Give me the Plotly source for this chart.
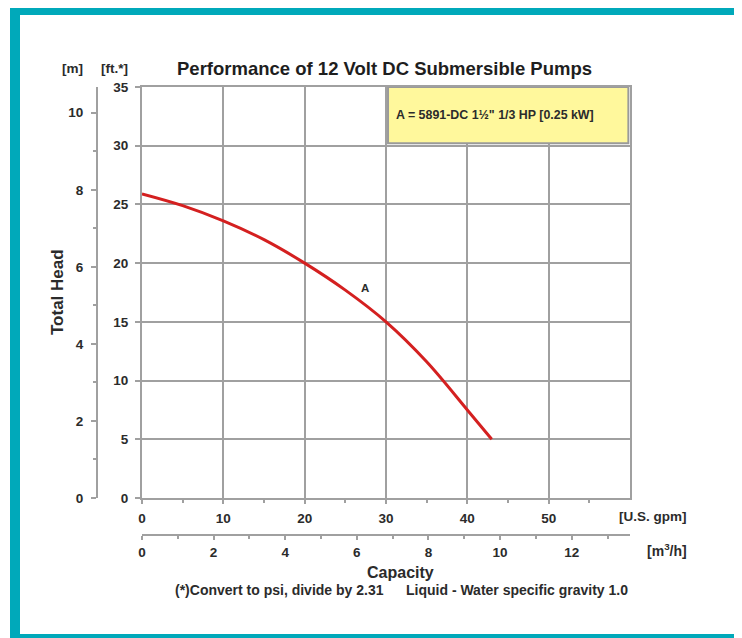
import plotly.graph_objects as go

# ---- data ----
flow_gpm = [0, 5, 10, 15, 20, 25, 30, 35, 40, 43]
head_ft = [25.9, 24.9, 23.6, 22.0, 20.0, 17.7, 15.0, 11.6, 7.5, 5.0]
curve_label = "A"
legend_text = "A = 5891-DC 1½\" 1/3 HP [0.25 kW]"
title_text = "Performance of 12 Volt DC Submersible Pumps"
gpm_ticks = [0, 10, 20, 30, 40, 50]
ft_ticks = [0, 5, 10, 15, 20, 25, 30, 35]
m3h_ticks = [0, 2, 4, 6, 8, 10, 12]
m_ticks = [0, 2, 4, 6, 8, 10]

GPM_MAX = 60
FT_MAX = 35
GPM_TO_M3H = 0.22712
FT_TO_M = 0.3048

OFF = 8                      # page body margin
W, H = 734, 630
L, R, T, B = 89, 112, 79, 103
PW = W - L - R
PH = H - T - B

def px(x):
    """reference-screenshot x pixel -> paper fraction"""
    return (x - OFF - L) / PW

def py(y):
    """reference-screenshot y pixel -> paper fraction"""
    return (H - B - (y - OFF)) / PH

xdom0 = px(142)
ydom0 = py(498)

FONT = "Liberation Sans, Arial, sans-serif"
GRID = "#a0a0a0"
TXT = "#2b2b2b"
TEAL = "#00a9ba"

fig = go.Figure()
fig.add_trace(go.Scatter(
    x=flow_gpm, y=head_ft, mode="lines",
    line=dict(color="#d42020", width=3, shape="spline", smoothing=1.0),
    showlegend=False, hoverinfo="skip", xaxis="x", yaxis="y"))
# invisible trace carrying the secondary (metric) axes
fig.add_trace(go.Scatter(
    x=[0, GPM_MAX * GPM_TO_M3H], y=[0, FT_MAX * FT_TO_M], mode="markers",
    marker=dict(opacity=0, size=1), showlegend=False, hoverinfo="skip",
    xaxis="x2", yaxis="y2"))

tickfont = dict(family=FONT, size=13.5, color=TXT, weight="bold")

fig.update_layout(
    width=W, height=H,
    margin=dict(l=L, r=R, t=T, b=B),
    paper_bgcolor="white", plot_bgcolor="white",
    font=dict(family=FONT, color=TXT),
    xaxis=dict(domain=[xdom0, 1], range=[0, GPM_MAX], tickvals=gpm_ticks, anchor="y",
               showgrid=True, gridcolor=GRID, gridwidth=2,
               showline=True, mirror=True, linecolor=GRID, linewidth=2,
               ticks="outside", ticklen=4, tickcolor=GRID, tickwidth=2,
               minor=dict(tick0=5, dtick=10, ticks="outside", ticklen=3,
                          tickcolor=GRID, showgrid=False),
               tickfont=tickfont, zeroline=False, fixedrange=True,
               ticklabelstandoff=3),
    yaxis=dict(domain=[ydom0, 1], range=[0, FT_MAX], tickvals=ft_ticks, anchor="x",
               showgrid=True, gridcolor=GRID, gridwidth=2,
               showline=True, mirror=True, linecolor=GRID, linewidth=2,
               ticks="outside", ticklen=5, tickcolor=GRID, tickwidth=2,
               tickfont=tickfont, zeroline=False, fixedrange=True,
               ticklabelstandoff=4),
    xaxis2=dict(domain=[xdom0, 1], range=[0, GPM_MAX * GPM_TO_M3H], tickvals=m3h_ticks,
                overlaying="x", anchor="free", position=0, side="bottom",
                showgrid=False, showline=True, linecolor=GRID, linewidth=2,
                ticks="outside", ticklen=4, tickcolor=GRID, tickwidth=2,
                minor=dict(tick0=1, dtick=2, ticks="outside", ticklen=3, tickcolor=GRID),
                tickfont=tickfont, zeroline=False, fixedrange=True,
                ticklabelstandoff=1),
    yaxis2=dict(domain=[ydom0, 1], range=[0, FT_MAX * FT_TO_M], tickvals=m_ticks,
                overlaying="y", anchor="free", position=0, side="left",
                showgrid=False, showline=True, linecolor=GRID, linewidth=2,
                ticks="outside", ticklen=5, tickcolor=GRID, tickwidth=2,
                minor=dict(tick0=1, dtick=2, ticks="outside", ticklen=3, tickcolor=GRID),
                tickfont=tickfont, zeroline=False, fixedrange=True,
                ticklabelstandoff=5),
)

shapes = [
    # teal frame
    dict(type="rect", xref="paper", yref="paper",
         x0=px(15), x1=px(739), y0=py(10), y1=py(639),
         line=dict(color=TEAL, width=10), fillcolor="rgba(0,0,0,0)", layer="above"),
    # legend box
    dict(type="rect", xref="x", yref="y", x0=30.25, x1=59.8, y0=30.2, y1=35,
         line=dict(color="#9a9a9a", width=2), fillcolor="#fff89c", layer="above"),
]
fig.update_layout(shapes=shapes)

def ann(text, x, y, size=12, xref="paper", yref="paper", angle=0, xanchor="center", color=TXT):
    return dict(text=text, x=x, y=y, xref=xref, yref=yref, showarrow=False,
                xanchor=xanchor, yanchor="middle", textangle=angle,
                font=dict(family=FONT, size=size, color=color, weight="bold"))

annotations = [
    ann(title_text, px(384), py(68), size=18.5, color="#1e1e1e"),
    ann("[m]", px(72), py(68), size=13.5),
    ann("[ft.*]", px(114), py(68), size=13.5),
    ann("Total Head", px(57), py(292), size=17, angle=-90),
    ann("[U.S. gpm]", px(653), py(516), size=13.5),
    ann("[m<sup>3</sup>/h]", px(667), py(550), size=14),
    ann("Capacity", px(400), py(572), size=16),
    ann("(*)Convert to psi, divide by 2.31", px(279), py(590), size=14),
    ann("Liquid - Water specific gravity 1.0", px(517), py(590), size=14),
    ann(legend_text, 43.4, 32.6, size=12.4, xref="x", yref="y"),
    ann(curve_label, 27.4, 17.9, size=11.5, xref="x", yref="y"),
]
fig.update_layout(annotations=annotations)

fig.write_html("out.html")
